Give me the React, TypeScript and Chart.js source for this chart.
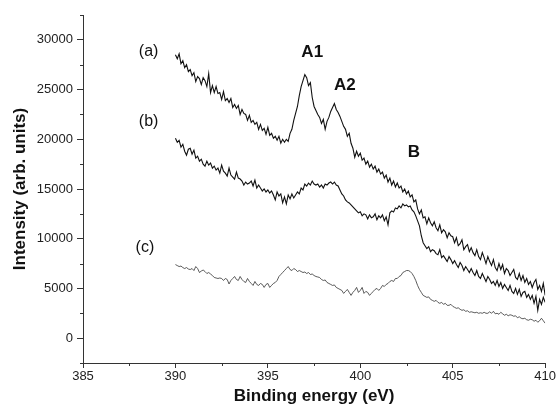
import { useEffect, useRef } from "react";
import { Chart, registerables } from "chart.js";

Chart.register(...registerables);

const energies = [
  390, 390.1, 390.2, 390.3, 390.4, 390.5, 390.6, 390.7, 390.8, 390.9,
  391, 391.1, 391.2, 391.3, 391.4, 391.5, 391.6, 391.7, 391.8, 391.9,
  392, 392.1, 392.2, 392.3, 392.4, 392.5, 392.6, 392.7, 392.8, 392.9,
  393, 393.1, 393.2, 393.3, 393.4, 393.5, 393.6, 393.7, 393.8, 393.9,
  394, 394.1, 394.2, 394.3, 394.4, 394.5, 394.6, 394.7, 394.8, 394.9,
  395, 395.1, 395.2, 395.3, 395.4, 395.5, 395.6, 395.7, 395.8, 395.9,
  396, 396.1, 396.2, 396.3, 396.4, 396.5, 396.6, 396.7, 396.8, 396.9,
  397, 397.1, 397.2, 397.3, 397.4, 397.5, 397.6, 397.7, 397.8, 397.9,
  398, 398.1, 398.2, 398.3, 398.4, 398.5, 398.6, 398.7, 398.8, 398.9,
  399, 399.1, 399.2, 399.3, 399.4, 399.5, 399.6, 399.7, 399.8, 399.9,
  400, 400.1, 400.2, 400.3, 400.4, 400.5, 400.6, 400.7, 400.8, 400.9,
  401, 401.1, 401.2, 401.3, 401.4, 401.5, 401.6, 401.7, 401.8, 401.9,
  402, 402.1, 402.2, 402.3, 402.4, 402.5, 402.6, 402.7, 402.8, 402.9,
  403, 403.1, 403.2, 403.3, 403.4, 403.5, 403.6, 403.7, 403.8, 403.9,
  404, 404.1, 404.2, 404.3, 404.4, 404.5, 404.6, 404.7, 404.8, 404.9,
  405, 405.1, 405.2, 405.3, 405.4, 405.5, 405.6, 405.7, 405.8, 405.9,
  406, 406.1, 406.2, 406.3, 406.4, 406.5, 406.6, 406.7, 406.8, 406.9,
  407, 407.1, 407.2, 407.3, 407.4, 407.5, 407.6, 407.7, 407.8, 407.9,
  408, 408.1, 408.2, 408.3, 408.4, 408.5, 408.6, 408.7, 408.8, 408.9,
  409, 409.1, 409.2, 409.3, 409.4, 409.5, 409.6, 409.7, 409.8, 409.9,
  410,
];

const seriesA = [
  28500, 28100, 28600, 27600, 27900, 27200, 27500, 26800, 27000, 26400,
  26700, 25800, 26300, 26100, 25500, 26200, 25900, 25300, 26600, 24700,
  25400, 24700, 25300, 24600, 24700, 24000, 24800, 23900, 24100, 23700,
  24100, 23200, 23500, 23100, 23400, 22500, 23000, 22600, 22500, 21900,
  22400, 21700, 21900, 21500, 21700, 21000, 21500, 20900, 21100, 20500,
  21200, 20400, 20600, 20100, 20300, 19900, 20300, 19600, 20000, 19700,
  20000, 19800, 20600, 21000, 21900, 22600, 23300, 24400, 25300, 25900,
  26500, 26200, 25400, 25700, 24200, 23300, 22900, 22500, 22200, 21600,
  22000, 21000, 21800, 22200, 22800, 23200, 23600, 23000, 22700, 22300,
  21800, 21300, 21000, 20300, 20600, 19600, 19100, 18200, 18800, 18300,
  18600, 17900, 18100, 17500, 17800, 17200, 17500, 17000, 17300, 16700,
  17000, 16500, 16700, 16100, 16400, 15700, 16100, 15400, 15800, 15200,
  15600, 15100, 15300, 14700, 15000, 14500, 14800, 14200, 14400, 13700,
  13900, 13000, 12500, 12900, 12100, 12200, 11500, 12100, 11600, 11300,
  11700, 11100, 10800, 11400, 10600, 10900, 10700, 10100, 10600, 10300,
  10200, 9600, 10100, 9300, 9500, 9900, 8900, 9200, 9400, 8700,
  9100, 8600, 8300, 8900, 8200, 7900, 8600, 8100, 7500, 8200,
  7700, 7300, 7900, 7100, 6800, 7500, 6900, 7400, 6500, 7000,
  6800, 6300, 6600, 6900, 6100, 5900, 6500, 5800, 6300, 5600,
  6000, 5400, 5700, 5100, 5600, 5900, 4900, 5300, 4700, 5500,
  4300,
];

const seriesB = [
  20100, 19700, 19900, 19200, 19500, 18800, 18400, 19000, 19100, 18500,
  18900, 18100, 18300, 17800, 18000, 17500, 17300, 17800, 17400, 17600,
  17100, 17300, 16900, 17100, 16600, 17400, 16800, 16600, 16300, 17100,
  16400, 16200, 16000, 16700, 16100, 16000, 15800, 15400, 15700, 15500,
  15600, 15800, 15300, 15900, 15100, 15400, 15100, 14800, 15000, 14700,
  14900, 14600, 14800, 14400, 13900, 14700, 14300, 14500, 13600, 14200,
  13500, 14400, 14000, 14500, 14100, 14400, 14700, 14500, 15100, 14900,
  15500, 15300, 15600, 15400, 15800, 15500, 15400, 15500, 15200, 15400,
  15100, 15500, 15400, 15600, 15700, 15500, 15700, 15400, 15300, 14900,
  14500, 14300, 13900, 13700, 13600, 13400, 13200, 13000, 12800, 12600,
  12700, 12300, 12500, 12400, 12000, 12400, 12100, 12200, 12500, 11900,
  12300, 12100, 12400, 11800, 12200, 11400, 12600, 12800, 12700, 13100,
  13000, 13300, 13100, 13500, 13300, 13400, 13200, 13300, 12900, 12700,
  12300, 11800, 11300, 10300, 9600, 9300, 9000, 9200, 8700, 8900,
  8800, 8500, 8400, 8900, 8100, 8300, 8000, 7700, 8200, 7900,
  7500, 7800, 7400, 7100, 7600, 7300, 6800, 7200, 6900, 6600,
  7000, 6600, 6300, 6800, 6200, 6000, 6500, 6100, 5700, 6200,
  5900, 5500, 5700, 5300, 5800, 5200, 5600, 5000, 5400, 5100,
  4800, 5300, 4700, 4500, 5000, 4400, 4900, 4200, 4600, 4700,
  4100, 4400, 3900, 4300, 3500, 4200, 2800, 3900, 3400, 4100,
  3600,
];

const seriesC = [
  7400, 7300, 7200, 7250, 7100, 7000, 7100, 6950, 6900, 7000,
  6800, 7200, 7000, 6600, 6750, 6850, 6700, 6500, 6600, 6450,
  6300, 6100, 6050, 6000, 6050, 6000, 5800, 6000, 5900, 5450,
  5800, 6000, 6200, 5900, 5800, 6200, 5900, 5700, 5600, 6000,
  5700, 5500, 5300, 5700, 5400, 5300, 5500, 5400, 5100, 5400,
  5500, 5100, 5300, 5500, 5600, 5800, 6200, 6400, 6600, 6800,
  7000, 7200, 6900, 6800, 7000, 6900, 6700, 6800, 6700, 6600,
  6650, 6500, 6600, 6400, 6450, 6300, 6200, 6150, 6100, 5900,
  5800, 5850, 5600, 5500, 5400, 5300, 5350, 5100, 5000, 4900,
  4800, 4500, 4700, 4900, 4600, 4300, 4600, 4800, 5100, 4600,
  4800, 5100, 4500, 4700, 4600, 4300, 4500, 4700, 4900, 5000,
  4800, 5000, 5300, 5200, 5400, 5500, 5700, 5800, 5700, 6000,
  6000, 6200, 6300, 6600, 6700, 6800, 6800, 6700, 6500, 6200,
  5800, 5300, 4900, 4600, 4300, 4200, 4100, 4150, 3900, 3800,
  3700, 3800, 3600, 3500, 3600, 3400, 3500, 3300, 3300, 3400,
  3200, 3100, 3000, 3050, 2900, 2800, 2850, 2700, 2750, 2600,
  2650, 2600, 2550, 2600, 2500, 2550, 2500, 2600, 2500, 2500,
  2650, 2500, 2700, 2450, 2500, 2400, 2600, 2450, 2300, 2400,
  2250, 2350, 2300, 2200, 2250, 2050, 2150, 2000, 1950, 2000,
  1850, 1800, 1900, 1850, 1700, 1800, 1600, 1750, 2000, 1750,
  1500,
];

const xTicks = [385, 390, 395, 400, 405, 410];
const yTicks = [0, 5000, 10000, 15000, 20000, 25000, 30000];
const xMinorTicks = [387.5, 392.5, 397.5, 402.5, 407.5];
const yMinorTicks = [-2500, 2500, 7500, 12500, 17500, 22500, 27500, 32500];

const curveNames = ["(a)", "(b)", "(c)"];
const curveNameX = [388.55, 388.55, 388.35];
const curveNameY = [28800, 21800, 9150];
const peakNames = ["A1", "A2", "B"];
const peakNameX = [397.4, 399.17, 402.9];
const peakNameY = [28700, 25450, 18700];

const FONT = "'Liberation Sans', Arial, sans-serif";

export default function App() {
  const canvasRef = useRef<HTMLCanvasElement | null>(null);

  useEffect(() => {
    const canvas = canvasRef.current;
    if (!canvas) return;

    const toPoints = (vals: number[]) => energies.map((e, i) => ({ x: e, y: vals[i] }));

    const textPlugin = {
      id: "extras",
      afterDraw(chart: any) {
        const { ctx, scales } = chart;
        const xs = scales.x;
        const ys = scales.y;
        ctx.save();
        ctx.strokeStyle = "#333";
        ctx.lineWidth = 1;
        const bottom = ys.getPixelForValue(-2500);
        const left = xs.getPixelForValue(385);
        xMinorTicks.forEach((v) => {
          const px = Math.round(xs.getPixelForValue(v)) + 0.5;
          ctx.beginPath();
          ctx.moveTo(px, bottom);
          ctx.lineTo(px, bottom + 3);
          ctx.stroke();
        });
        yMinorTicks.forEach((v) => {
          const py = Math.round(ys.getPixelForValue(v)) + 0.5;
          ctx.beginPath();
          ctx.moveTo(left, py);
          ctx.lineTo(left - 3, py);
          ctx.stroke();
        });
        ctx.fillStyle = "#111";
        ctx.textAlign = "center";
        ctx.textBaseline = "middle";
        ctx.font = `16px ${FONT}`;
        curveNames.forEach((t, i) => {
          ctx.fillText(t, xs.getPixelForValue(curveNameX[i]), ys.getPixelForValue(curveNameY[i]));
        });
        ctx.font = `bold 17px ${FONT}`;
        peakNames.forEach((t, i) => {
          ctx.fillText(t, xs.getPixelForValue(peakNameX[i]), ys.getPixelForValue(peakNameY[i]));
        });
        ctx.restore();
      },
    };

    const chart = new Chart(canvas, {
      type: "line",
      data: {
        datasets: [
          { label: "(a)", data: toPoints(seriesA), borderColor: "#111", borderWidth: 1.1, pointRadius: 0, tension: 0 },
          { label: "(b)", data: toPoints(seriesB), borderColor: "#111", borderWidth: 1.1, pointRadius: 0, tension: 0 },
          { label: "(c)", data: toPoints(seriesC), borderColor: "#333", borderWidth: 0.8, pointRadius: 0, tension: 0 },
        ],
      },
      options: {
        animation: false,
        responsive: true,
        maintainAspectRatio: false,
        layout: { padding: { left: 0, right: 10, top: 15, bottom: 0 } },
        plugins: { legend: { display: false }, tooltip: { enabled: false } },
        scales: {
          x: {
            type: "linear",
            min: 385,
            max: 410,
            afterBuildTicks: (s: any) => {
              s.ticks = xTicks.map((v) => ({ value: v }));
            },
            afterFit: (s: any) => {
              s.height = 44;
            },
            grid: { display: true, drawOnChartArea: false, drawTicks: true, tickLength: 5, tickColor: "#333" },
            border: { display: true, color: "#333", width: 1 },
            ticks: {
              color: "#222",
              font: { family: FONT, size: 13 },
              padding: 1,
              maxRotation: 0,
              callback: (v: any) => String(v),
            },
            title: {
              display: true,
              text: "Binding energy (eV)",
              color: "#111",
              font: { family: FONT, size: 17, weight: "bold" },
              padding: { top: 0, bottom: 0 },
            },
          },
          y: {
            type: "linear",
            min: -2500,
            max: 32500,
            afterBuildTicks: (s: any) => {
              s.ticks = yTicks.map((v) => ({ value: v }));
            },
            afterFit: (s: any) => {
              s.width = 83;
            },
            grid: { display: true, drawOnChartArea: false, drawTicks: true, tickLength: 6, tickColor: "#333" },
            border: { display: true, color: "#333", width: 1 },
            ticks: {
              color: "#222",
              font: { family: FONT, size: 13 },
              padding: 4,
              callback: (v: any) => String(v),
            },
            title: {
              display: true,
              text: "Intensity (arb. units)",
              color: "#111",
              font: { family: FONT, size: 17, weight: "bold" },
              padding: { top: 10, bottom: 0 },
            },
          },
        },
      },
      plugins: [textPlugin],
    });

    return () => chart.destroy();
  }, []);

  return (
    <div style={{ position: "fixed", left: 0, top: 0, width: 557, height: 407, background: "#fff" }}>
      <canvas ref={canvasRef} />
    </div>
  );
}
